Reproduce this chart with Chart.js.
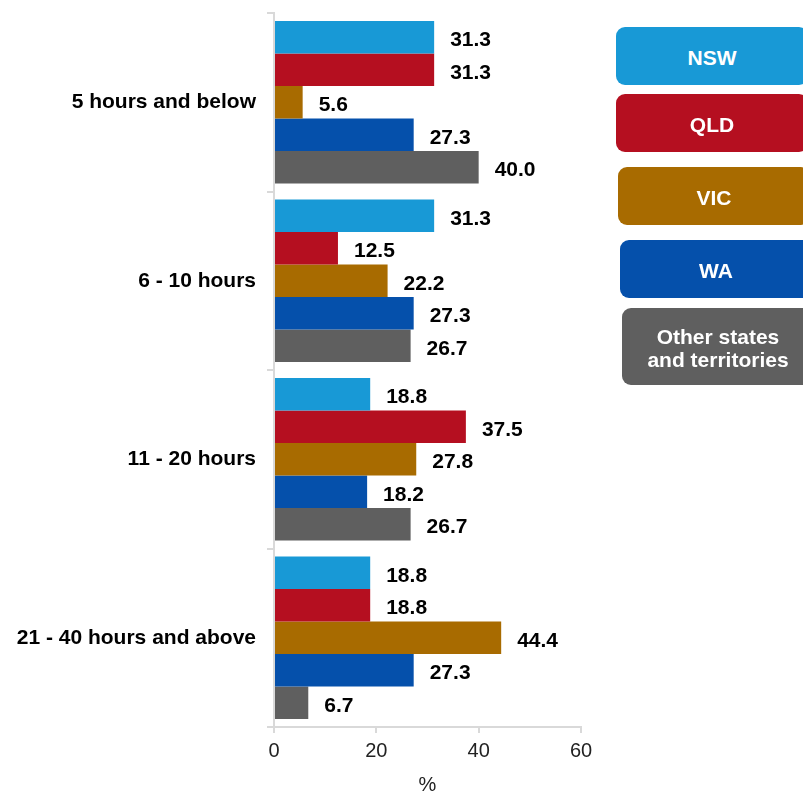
<!DOCTYPE html>
<html>
<head>
<meta charset="utf-8">
<title>Hours by state</title>
<script src="https://cdn.jsdelivr.net/npm/chart.js@4/dist/chart.umd.min.js"></script>
<style>
  html, body { margin: 0; padding: 0; background: #fff; overflow: hidden; }
  #wrap { position: relative; width: 803px; height: 792px; }
  #chart-box { position: absolute; left: 0; top: 0; width: 803px; height: 792px; }
  .key {
    position: absolute; width: 192px; border-radius: 9px;
    color: #fff; font: bold 21px "Liberation Sans", Arial, sans-serif;
    display: flex; align-items: center; justify-content: center;
    text-align: center; line-height: 23px; padding-top: 2px; box-sizing: border-box;
  }
</style>
</head>
<body>
<div id="wrap">
  <div id="chart-box"><canvas id="c"></canvas></div>
  <div id="legend"></div>
</div>
<script>
// Hours bands shown on the vertical axis
const categories = ['5 hours and below', '6 - 10 hours', '11 - 20 hours', '21 - 40 hours and above'];

// Share of respondents (%) per state, one array per series
const seriesNames = ['NSW', 'QLD', 'VIC', 'WA', 'Other states and territories'];
const nsw   = [31.3, 31.3, 18.8, 18.8];
const qld   = [31.3, 12.5, 37.5, 18.8];
const vic   = [5.6, 22.2, 27.8, 44.4];
const wa    = [27.3, 27.3, 18.2, 27.3];
const other = [40.0, 26.7, 26.7, 6.7];

// Axis ticks
const xTicks = [0, 20, 40, 60];

const colors = ['#1899d6', '#b50f20', '#a86b00', '#0550ab', '#5f5f5f'];
const values = [nsw, qld, vic, wa, other];

const FONT = '"Liberation Sans", Arial, sans-serif';
const AXIS = '#d9d9d9';

// Value labels written just past the end of each bar
const barValueLabels = {
  id: 'barValueLabels',
  afterDatasetsDraw(chart) {
    const ctx = chart.ctx;
    ctx.save();
    ctx.font = 'bold 21px ' + FONT;
    ctx.fillStyle = '#000';
    ctx.textAlign = 'left';
    ctx.textBaseline = 'middle';
    chart.data.datasets.forEach((ds, i) => {
      chart.getDatasetMeta(i).data.forEach((bar, j) => {
        ctx.fillText(ds.data[j].toFixed(1), bar.x + 16, bar.y + 3);
      });
    });
    ctx.restore();
  }
};

new Chart(document.getElementById('c'), {
  type: 'bar',
  data: {
    labels: categories,
    datasets: seriesNames.map((name, i) => ({
      label: name,
      data: values[i],
      backgroundColor: colors[i],
      borderWidth: 0,
      categoryPercentage: 0.91,
      barPercentage: 1.0
    }))
  },
  options: {
    indexAxis: 'y',
    responsive: true,
    maintainAspectRatio: false,
    animation: false,
    layout: { padding: { top: 13, right: 222, left: 0, bottom: 0 } },
    plugins: {
      legend: { display: false },
      tooltip: { enabled: false }
    },
    scales: {
      x: {
        min: 0, max: 60,
        afterBuildTicks: s => { s.ticks = xTicks.map(v => ({ value: v })); },
        afterFit: s => { s.height = 65; s.paddingLeft = 0; s.paddingRight = 0; },
        grid: { drawOnChartArea: false, drawTicks: true, tickLength: 6, color: AXIS, lineWidth: 2 },
        border: { color: AXIS, width: 2 },
        ticks: { color: '#222', font: { family: FONT, size: 20 }, padding: 6 },
        title: { display: true, text: '%', color: '#222', font: { family: FONT, size: 20 }, padding: { top: 4, bottom: -5 } }
      },
      y: {
        afterFit: s => { s.width = 274; s.paddingTop = 0; s.paddingBottom = 0; },
        grid: { drawOnChartArea: false, drawTicks: true, tickLength: 7, color: AXIS, lineWidth: 2, offset: true },
        border: { color: AXIS, width: 2 },
        ticks: { color: '#000', font: { family: FONT, size: 21, weight: 'bold' }, padding: 11 }
      }
    }
  },
  plugins: [barValueLabels]
});

// Legend keys as rounded blocks on the right
const keyBoxes = [
  { left: 616, top: 27, height: 58 },
  { left: 616, top: 94, height: 58 },
  { left: 618, top: 167, height: 58 },
  { left: 620, top: 240, height: 58 },
  { left: 622, top: 308, height: 77 }
];
const legend = document.getElementById('legend');
seriesNames.forEach((name, i) => {
  const d = document.createElement('div');
  d.className = 'key';
  d.style.left = keyBoxes[i].left + 'px';
  d.style.top = keyBoxes[i].top + 'px';
  d.style.height = keyBoxes[i].height + 'px';
  d.style.background = colors[i];
  d.innerHTML = name === 'Other states and territories' ? 'Other states<br>and territories' : name;
  legend.appendChild(d);
});
</script>
</body>
</html>
